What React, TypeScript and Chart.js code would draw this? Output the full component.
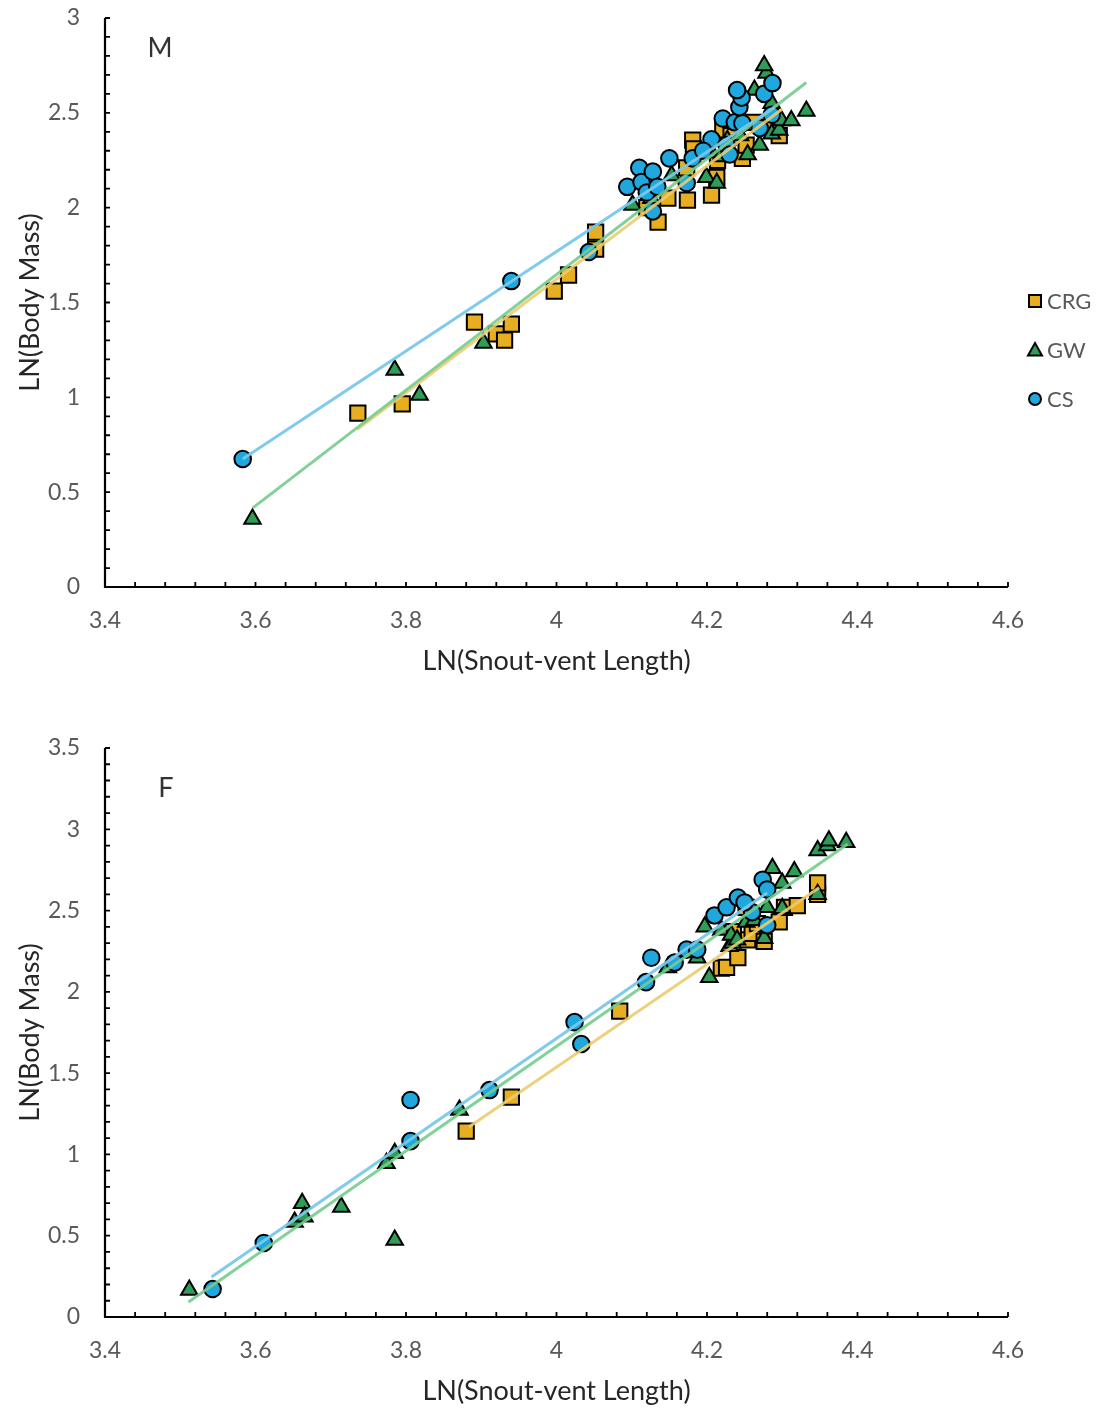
import React, { useEffect, useRef } from "react";
import { Chart, registerables } from "chart.js";

Chart.register(...registerables);

// ---------- axes ----------
const xTickValues = [3.4, 3.6, 3.8, 4.0, 4.2, 4.4, 4.6];
const yTickValuesM = [0, 0.5, 1, 1.5, 2, 2.5, 3];
const yTickValuesF = [0, 0.5, 1, 1.5, 2, 2.5, 3, 3.5];
const seriesNames = ["CRG", "GW", "CS"];

// ---------- males (M) ----------
const mCrgX = [3.736, 3.795, 3.891, 3.92, 3.931, 3.94, 3.997, 4.016, 4.052, 4.052, 4.12, 4.135, 4.148, 4.174, 4.206, 4.213, 4.181, 4.182, 4.173, 4.214, 4.247, 4.252, 4.221, 4.296, 4.276, 4.232, 4.262];
const mCrgY = [0.917, 0.965, 1.397, 1.334, 1.302, 1.386, 1.56, 1.645, 1.871, 1.782, 2.0, 1.924, 2.05, 2.04, 2.066, 2.16, 2.356, 2.31, 2.21, 2.25, 2.26, 2.33, 2.41, 2.38, 2.425, 2.38, 2.45];
const mGwX = [3.596, 3.785, 3.818, 3.903, 4.101, 4.126, 4.153, 4.199, 4.213, 4.206, 4.199, 4.227, 4.254, 4.27, 4.286, 4.296, 4.299, 4.312, 4.332, 4.24, 4.286, 4.263, 4.279, 4.276, 4.218, 4.244];
const mGwY = [0.358, 1.144, 1.012, 1.286, 2.014, 2.05, 2.17, 2.16, 2.13, 2.29, 2.31, 2.356, 2.28, 2.33, 2.39, 2.41, 2.46, 2.46, 2.51, 2.44, 2.55, 2.62, 2.71, 2.75, 2.27, 2.38];
const mCsX = [3.583, 3.94, 4.043, 4.094, 4.11, 4.113, 4.12, 4.128, 4.128, 4.134, 4.15, 4.173, 4.181, 4.206, 4.221, 4.226, 4.23, 4.237, 4.247, 4.243, 4.246, 4.24, 4.27, 4.276, 4.286, 4.287, 4.195];
const mCsY = [0.675, 1.613, 1.766, 2.11, 2.21, 2.135, 2.08, 2.19, 1.98, 2.11, 2.26, 2.13, 2.26, 2.36, 2.47, 2.33, 2.28, 2.45, 2.445, 2.53, 2.58, 2.62, 2.42, 2.6, 2.49, 2.657, 2.3];
// trend line end points
const mCrgFitX = [3.735, 4.3];
const mCrgFitY = [0.83, 2.52];
const mGwFitX = [3.596, 4.332];
const mGwFitY = [0.416, 2.66];
const mCsFitX = [3.583, 4.29];
const mCsFitY = [0.675, 2.53];

// ---------- females (F) ----------
const fCrgX = [3.88, 3.94, 4.084, 4.219, 4.226, 4.241, 4.254, 4.26, 4.267, 4.276, 4.252, 4.296, 4.303, 4.32, 4.347, 4.347, 4.235];
const fCrgY = [1.144, 1.353, 1.882, 2.146, 2.15, 2.21, 2.32, 2.36, 2.42, 2.31, 2.52, 2.43, 2.52, 2.53, 2.6, 2.67, 2.37];
const fGwX = [3.512, 3.652, 3.662, 3.665, 3.714, 3.774, 3.785, 3.785, 3.871, 4.148, 4.187, 4.197, 4.203, 4.219, 4.23, 4.234, 4.232, 4.24, 4.252, 4.263, 4.276, 4.28, 4.3, 4.3, 4.287, 4.316, 4.347, 4.347, 4.36, 4.362, 4.385];
const fGwY = [0.166, 0.584, 0.7, 0.616, 0.677, 0.946, 1.008, 0.474, 1.273, 2.15, 2.21, 2.4, 2.09, 2.38, 2.28, 2.3, 2.35, 2.32, 2.43, 2.44, 2.33, 2.52, 2.515, 2.67, 2.76, 2.74, 2.6, 2.87, 2.9, 2.93, 2.92];
const fCsX = [3.543, 3.611, 3.806, 3.806, 3.911, 4.024, 4.033, 4.119, 4.126, 4.157, 4.173, 4.187, 4.21, 4.226, 4.241, 4.26, 4.274, 4.28, 4.28, 4.25];
const fCsY = [0.172, 0.455, 1.335, 1.082, 1.396, 1.814, 1.679, 2.06, 2.21, 2.18, 2.26, 2.26, 2.47, 2.52, 2.58, 2.49, 2.69, 2.63, 2.41, 2.55];
const fCrgFitX = [3.884, 4.349];
const fCrgFitY = [1.17, 2.64];
const fGwFitX = [3.511, 4.387];
const fGwFitY = [0.092, 2.91];
const fCsFitX = [3.5415, 4.28];
const fCsFitY = [0.246, 2.61];

// ---------- styles ----------
const FONT = "Lato, 'Open Sans', sans-serif";
const markerStyles = [
  { pointStyle: "rect", radius: 10.8, fill: "#E8AE22" },
  { pointStyle: "triangle", radius: 9.5, fill: "#2F9D57" },
  { pointStyle: "circle", radius: 8.3, fill: "#1FA7DE" },
];
const fitColors = ["rgba(236, 204, 112, 0.9)", "rgba(118, 204, 142, 0.9)", "rgba(120, 200, 234, 0.95)"];

const pairs = (xs: number[], ys: number[]) => xs.map((x, i) => ({ x, y: ys[i] }));
const fmt = (v: number) => String(+Number(v).toFixed(2));

type Panel = {
  letter: string;
  letterX: number;
  letterY: number;
  yMax: number;
  yTicks: number[];
  padTop: number;
  xAxisHeight: number;
  xTitlePad: number;
  showLegend: boolean;
  series: { x: number[]; y: number[] }[];
  fits: { x: number[]; y: number[] }[];
};

// axis lines, inward minor tick marks, panel letter and legend
const frame = {
  id: "frame",
  afterDraw(chart: any, _args: any, opts: any) {
    const { ctx, chartArea: a, scales } = chart;
    const xs = scales.x;
    const ys = scales.y;
    ctx.save();
    ctx.strokeStyle = "#000";
    ctx.lineWidth = 2.2;
    ctx.beginPath();
    ctx.moveTo(a.left, a.top);
    ctx.lineTo(a.left, a.bottom);
    ctx.lineTo(a.right, a.bottom);
    ctx.stroke();

    ctx.lineWidth = 1.8;
    ctx.beginPath();
    const nx = Math.round((xs.max - xs.min) / opts.xMinor);
    for (let i = 1; i <= nx; i++) {
      const px = xs.getPixelForValue(xs.min + i * opts.xMinor);
      ctx.moveTo(px, a.bottom);
      ctx.lineTo(px, a.bottom - 5);
    }
    const ny = Math.round((ys.max - ys.min) / opts.yMinor);
    for (let i = 1; i <= ny; i++) {
      const py = ys.getPixelForValue(ys.min + i * opts.yMinor);
      ctx.moveTo(a.left, py);
      ctx.lineTo(a.left + 5, py);
    }
    ctx.stroke();

    ctx.fillStyle = "#333";
    ctx.font = `27px ${FONT}`;
    ctx.textAlign = "center";
    ctx.textBaseline = "middle";
    ctx.fillText(opts.letter, opts.letterX, opts.letterY);

    if (opts.showLegend) {
      const lx = 1035;
      const ly0 = 301;
      const gap = 49;
      seriesNames.forEach((name, i) => {
        const cy = ly0 + i * gap;
        const m = markerStyles[i];
        ctx.fillStyle = m.fill;
        ctx.strokeStyle = "#000";
        ctx.lineWidth = 2;
        ctx.beginPath();
        if (m.pointStyle === "rect") {
          ctx.rect(lx - 6, cy - 6, 12, 12);
        } else if (m.pointStyle === "triangle") {
          ctx.moveTo(lx, cy - 7);
          ctx.lineTo(lx + 7, cy + 5.5);
          ctx.lineTo(lx - 7, cy + 5.5);
          ctx.closePath();
        } else {
          ctx.arc(lx, cy, 6, 0, Math.PI * 2);
        }
        ctx.fill();
        ctx.stroke();
        ctx.fillStyle = "#595959";
        ctx.font = `22px ${FONT}`;
        ctx.textAlign = "left";
        ctx.textBaseline = "middle";
        ctx.fillText(name, lx + 12, cy + 1);
      });
    }
    ctx.restore();
  },
};

function buildConfig(p: Panel): any {
  const fitSets = p.fits.map((f, i) => ({
    label: seriesNames[i] + " fit",
    data: pairs(f.x, f.y),
    showLine: true,
    pointRadius: 0,
    borderColor: fitColors[i],
    borderWidth: 3,
    order: 0,
  }));
  const pointSets = p.series.map((s, i) => ({
    label: seriesNames[i],
    data: pairs(s.x, s.y),
    pointStyle: markerStyles[i].pointStyle,
    pointRadius: markerStyles[i].radius,
    backgroundColor: markerStyles[i].fill,
    borderColor: "#000",
    borderWidth: 2,
    showLine: false,
    order: 3 - i,
  }));
  return {
    type: "scatter",
    data: { datasets: [...fitSets.reverse(), ...pointSets] },
    options: {
      responsive: false,
      animation: false,
      events: [],
      layout: { padding: { left: 0, top: p.padTop, right: 91, bottom: 0 } },
      plugins: {
        legend: { display: false },
        tooltip: { enabled: false },
        frame: { letter: p.letter, letterX: p.letterX, letterY: p.letterY, showLegend: p.showLegend, xMinor: 0.04, yMinor: 0.1 },
      },
      scales: {
        x: {
          type: "linear",
          min: 3.4,
          max: 4.6,
          grid: { display: false, drawTicks: false },
          border: { display: false },
          afterBuildTicks: (s: any) => {
            s.ticks = xTickValues.map((v) => ({ value: v }));
          },
          afterFit: (s: any) => {
            s.height = p.xAxisHeight;
            s.paddingLeft = 0;
            s.paddingRight = 0;
          },
          ticks: {
            padding: 20,
            autoSkip: false,
            maxRotation: 0,
            color: "#595959",
            font: { family: FONT, size: 23 },
            callback: (v: number) => fmt(v),
          },
          title: {
            display: true,
            text: "LN(Snout-vent Length)",
            color: "#262626",
            font: { family: FONT, size: 27 },
            padding: { top: 0, bottom: p.xTitlePad },
          },
        },
        y: {
          type: "linear",
          min: 0,
          max: p.yMax,
          grid: { display: false, drawTicks: false },
          border: { display: false },
          afterBuildTicks: (s: any) => {
            s.ticks = p.yTicks.map((v) => ({ value: v }));
          },
          afterFit: (s: any) => {
            s.width = 105;
            s.paddingTop = 0;
            s.paddingBottom = 0;
          },
          ticks: {
            padding: 25,
            autoSkip: false,
            color: "#595959",
            font: { family: FONT, size: 23 },
            callback: (v: number) => fmt(v),
          },
          title: {
            display: true,
            text: "LN(Body Mass)",
            color: "#262626",
            font: { family: FONT, size: 27 },
            padding: { top: 14, bottom: 0 },
          },
        },
      },
    },
    plugins: [frame],
  };
}

function ScatterPanel({ panel, top, height }: { panel: Panel; top: number; height: number }) {
  const ref = useRef<HTMLCanvasElement>(null);
  useEffect(() => {
    if (!ref.current) return;
    const chart = new Chart(ref.current, buildConfig(panel));
    return () => chart.destroy();
  }, [panel]);
  return (
    <canvas
      ref={ref}
      width={1099}
      height={height}
      style={{ position: "absolute", left: 0, top, width: 1099, height }}
    />
  );
}

const malePanel: Panel = {
  letter: "M",
  letterX: 160,
  letterY: 48,
  yMax: 3,
  yTicks: yTickValuesM,
  padTop: 18,
  xAxisHeight: 113,
  xTitlePad: 23,
  showLegend: true,
  series: [
    { x: mCrgX, y: mCrgY },
    { x: mGwX, y: mGwY },
    { x: mCsX, y: mCsY },
  ],
  fits: [
    { x: mCrgFitX, y: mCrgFitY },
    { x: mGwFitX, y: mGwFitY },
    { x: mCsFitX, y: mCsFitY },
  ],
};

const femalePanel: Panel = {
  letter: "F",
  letterX: 166,
  letterY: 88,
  yMax: 3.5,
  yTicks: yTickValuesF,
  padTop: 48,
  xAxisHeight: 95,
  xTitlePad: 5,
  showLegend: false,
  series: [
    { x: fCrgX, y: fCrgY },
    { x: fGwX, y: fGwY },
    { x: fCsX, y: fCsY },
  ],
  fits: [
    { x: fCrgFitX, y: fCrgFitY },
    { x: fGwFitX, y: fGwFitY },
    { x: fCsFitX, y: fCsFitY },
  ],
};

export default function App() {
  return (
    <div style={{ position: "absolute", left: 0, top: 0, width: 1099, height: 1412, background: "#fff" }}>
      <ScatterPanel panel={malePanel} top={0} height={700} />
      <ScatterPanel panel={femalePanel} top={700} height={712} />
    </div>
  );
}
